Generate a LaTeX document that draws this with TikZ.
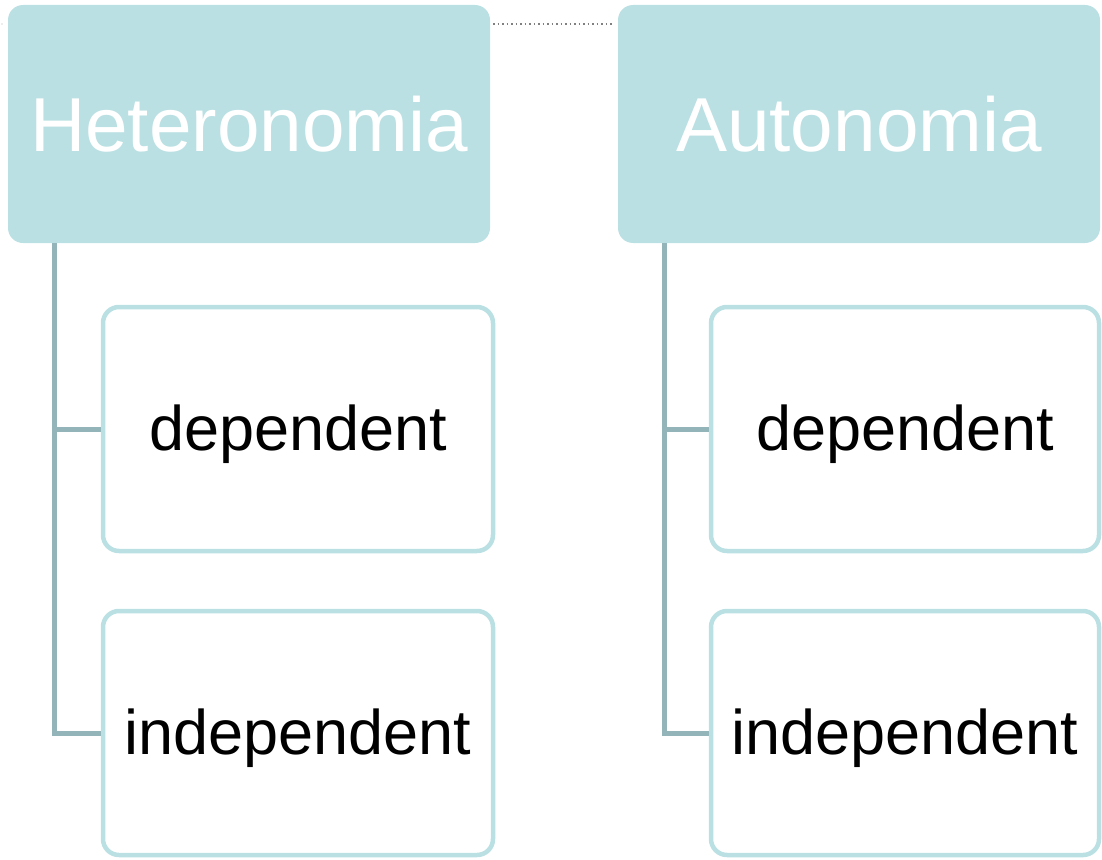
\documentclass[tikz,border=0pt]{standalone}
\usepackage{fontspec}
\setmainfont{Liberation Sans}
\definecolor{headfill}{HTML}{BAE0E3}
\definecolor{linkcol}{HTML}{93B4B8}
\tikzset{
  head/.style={fill=headfill,rounded corners=15pt,minimum width=482pt,minimum height=238pt,
    text=white,font=\fontsize{76.5}{80}\selectfont,inner sep=0pt},
  leaf/.style={draw=headfill,line width=4.5pt,rounded corners=16pt,minimum height=244pt,
    font=\fontsize{63}{66}\selectfont,inner sep=0pt,fill=white,text depth=3pt},
  link/.style={draw=linkcol,line width=5pt}
}
\begin{document}
\begin{tikzpicture}[x=1pt,y=-1pt]
  \useasboundingbox (0,0) rectangle (1102,859);
  % Draw heads
  \node[head] (het) at (249,124) {Heteronomia};
  \node[head] (aut) at (859,124) {Autonomia};
  % dotted link between heads
  \coordinate (d0) at (2,24);
  \draw[gray,line width=1.5pt,dash pattern=on 1.5pt off 3pt] ([xshift=3pt]het.east |- d0) -- ([xshift=-5pt]aut.west |- d0);
  \fill[gray!60] (d0) circle (0.7pt);
  % Draw leaves
  \node[leaf,minimum width=390pt] (hdep) at (298,429) {dependent};
  \node[leaf,minimum width=390pt] (hind) at (298,733) {independent};
  \node[leaf,minimum width=388pt] (adep) at (905,429) {dependent};
  \node[leaf,minimum width=388pt] (aind) at (905,733) {independent};
  % Draw links
  \coordinate (hl) at (54,0);
  \coordinate (al) at (664,0);
  \draw[link] (hl |- het.south) -- (hl |- hind.west) -- (hind.west);
  \draw[link] (hl |- hdep.west) -- (hdep.west);
  \draw[link] (al |- aut.south) -- (al |- aind.west) -- (aind.west);
  \draw[link] (al |- adep.west) -- (adep.west);
\end{tikzpicture}
\end{document}
